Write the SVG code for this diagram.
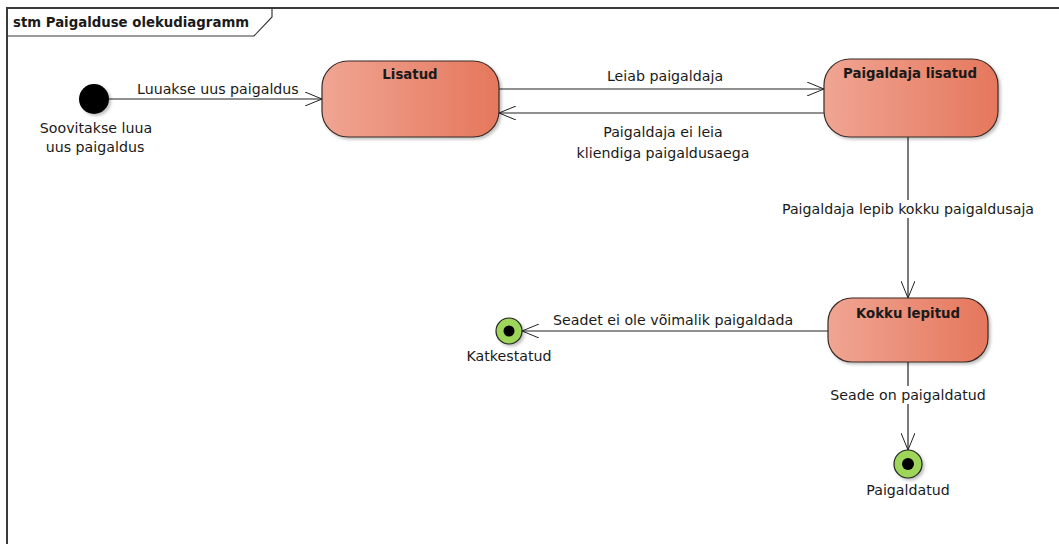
<svg xmlns="http://www.w3.org/2000/svg" width="1059" height="544" viewBox="0 0 1059 544">
  <defs>
    <linearGradient id="stateFill" x1="0" y1="0" x2="1" y2="0">
      <stop offset="0" stop-color="#F0A593"/>
      <stop offset="1" stop-color="#E5775C"/>
    </linearGradient>
    <filter id="shadow" x="-10%" y="-10%" width="130%" height="130%">
      <feDropShadow dx="2" dy="2" stdDeviation="1.5" flood-color="#000" flood-opacity="0.25"/>
    </filter>
    <marker id="open" viewBox="0 0 18 14" refX="17" refY="7" markerWidth="18" markerHeight="14" markerUnits="userSpaceOnUse" orient="auto">
      <path d="M0,0 L17,7 L0,14" fill="none" stroke="#222" stroke-width="1"/>
    </marker>
  </defs>
  <style>
    .frame { fill: none; stroke: #3a3a3a; stroke-width: 2; }
    .state { fill: url(#stateFill); stroke: #3a2a26; stroke-width: 1.2; filter: url(#shadow); }
    .title { font-family: "DejaVu Sans", "Liberation Sans", sans-serif; font-size: 13.3px; font-weight: bold; fill: #1a1a1a; }
    .lbl { font-family: "DejaVu Sans", "Liberation Sans", sans-serif; font-size: 14.2px; fill: #1a1a1a; }
    .edge { fill: none; stroke: #222; stroke-width: 1.2; marker-end: url(#open); }
    .final { fill: #9ED65A; stroke: #222; stroke-width: 1.2; filter: url(#shadow); }
  </style>

  <rect width="1059" height="544" fill="#fff"/>

  <!-- diagram frame and name tab -->
  <g id="frame">
    <path class="frame" d="M7,545 L7,8 L1060,8"/>
    <path d="M7,36 L254,36 L272,17 L272,8" fill="none" stroke="#3a3a3a" stroke-width="1.2"/>
    <text class="title" x="13" y="27">stm Paigalduse olekudiagramm</text>
  </g>

  <!-- transitions -->
  <g id="connectors">
    <line class="edge" x1="109" y1="99" x2="322" y2="99"/>
    <text class="lbl" x="137" y="94">Luuakse uus paigaldus</text>

    <line class="edge" x1="499" y1="89" x2="824" y2="89"/>
    <text class="lbl" x="665" y="81" text-anchor="middle">Leiab paigaldaja</text>

    <line class="edge" x1="824" y1="113" x2="499" y2="113"/>
    <text class="lbl" x="663" y="137" text-anchor="middle">Paigaldaja ei leia</text>
    <text class="lbl" x="663" y="158" text-anchor="middle">kliendiga paigaldusaega</text>

    <line class="edge" x1="908" y1="137" x2="908" y2="298"/>
    <rect x="778" y="200" width="260" height="18" fill="#fff"/>
    <text class="lbl" x="908" y="214" text-anchor="middle">Paigaldaja lepib kokku paigaldusaja</text>

    <line class="edge" x1="828" y1="331" x2="522" y2="331"/>
    <text class="lbl" x="553" y="325">Seadet ei ole võimalik paigaldada</text>

    <line class="edge" x1="908" y1="362" x2="908" y2="450"/>
    <rect x="824" y="386" width="168" height="18" fill="#fff"/>
    <text class="lbl" x="908" y="400" text-anchor="middle">Seade on paigaldatud</text>
  </g>

  <!-- initial pseudostate -->
  <g id="initial">
    <circle cx="94" cy="99" r="15" fill="#000" filter="url(#shadow)"/>
    <text class="lbl" x="96" y="133" text-anchor="middle">Soovitakse luua</text>
    <text class="lbl" x="95" y="152" text-anchor="middle">uus paigaldus</text>
  </g>

  <g id="lisatud">
    <rect class="state" x="322" y="61" width="177" height="76" rx="26" ry="26"/>
    <text class="title" x="410" y="79" text-anchor="middle">Lisatud</text>
  </g>

  <g id="paigaldaja-lisatud">
    <rect class="state" x="824" y="59" width="174" height="78" rx="26" ry="26"/>
    <text class="title" x="910" y="78" text-anchor="middle">Paigaldaja lisatud</text>
  </g>

  <g id="kokku-lepitud">
    <rect class="state" x="828" y="298" width="160" height="64" rx="24" ry="24"/>
    <text class="title" x="908" y="318" text-anchor="middle">Kokku lepitud</text>
  </g>

  <g id="katkestatud">
    <circle class="final" cx="509" cy="331" r="13"/>
    <circle cx="509" cy="331" r="5.5" fill="#000"/>
    <text class="lbl" x="509" y="361" text-anchor="middle">Katkestatud</text>
  </g>

  <g id="paigaldatud">
    <circle class="final" cx="908" cy="464" r="14"/>
    <circle cx="908" cy="464" r="6" fill="#000"/>
    <text class="lbl" x="908" y="495" text-anchor="middle">Paigaldatud</text>
  </g>
</svg>
